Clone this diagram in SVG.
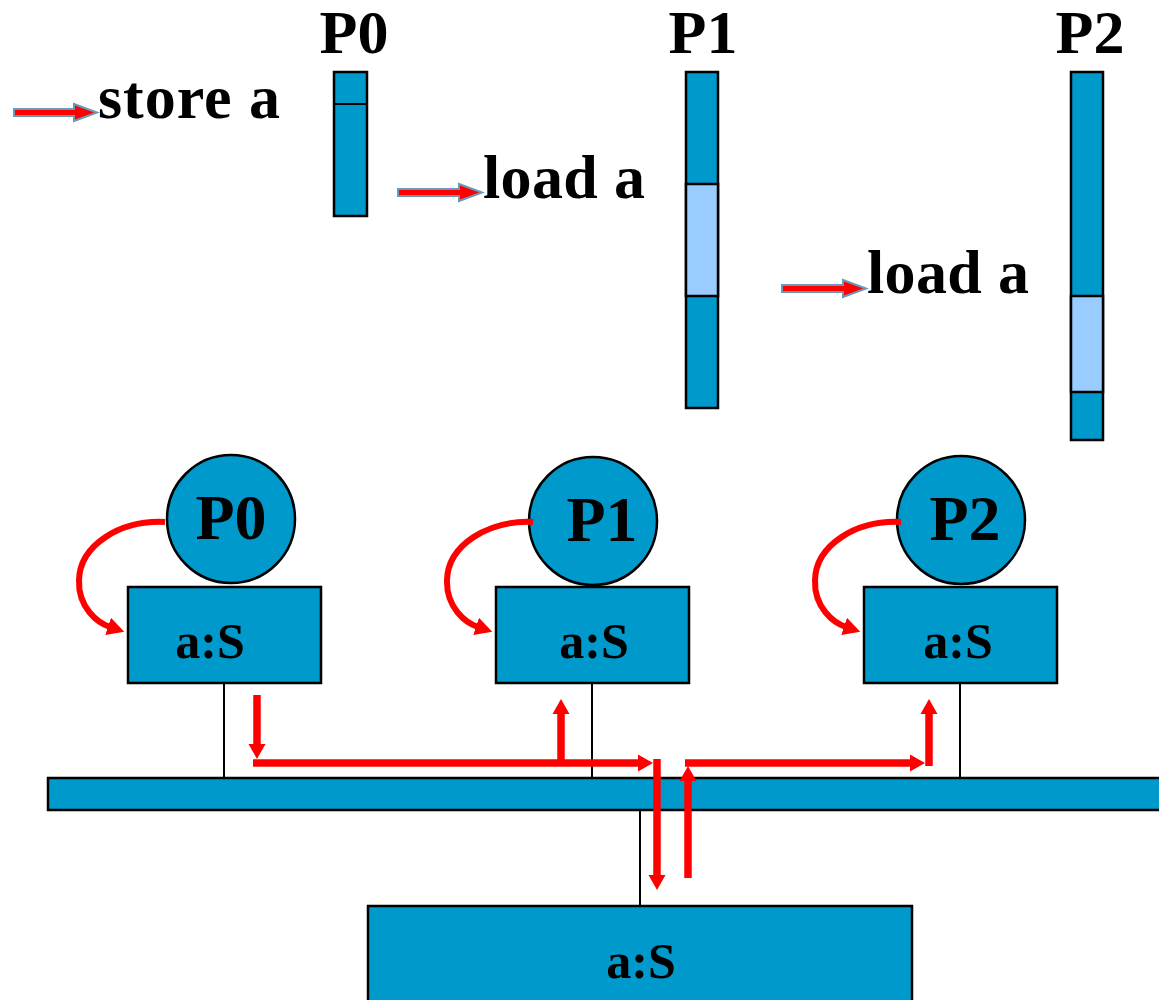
<svg xmlns="http://www.w3.org/2000/svg" width="1159" height="1000" viewBox="0 0 1159 1000">
<style>
.t{font-family:"Liberation Serif","Times New Roman",serif;font-weight:bold;fill:#000}
.big{font-size:62px}
.mid{font-size:64px}
.sm{font-size:50px}
.blue{fill:#0099cc;stroke:#000;stroke-width:2.5}
.light{fill:#99ccff;stroke:#000;stroke-width:2.5}
.wire{stroke:#000;stroke-width:2;fill:none}
.red{stroke:#ff0000;stroke-width:7.5;fill:none}
.curve{stroke:#ff0000;stroke-width:6;fill:none}
.blk{fill:#ff0000;stroke:#6a9ab8;stroke-width:2}
</style>
<defs>
<marker id="ah" markerUnits="userSpaceOnUse" markerWidth="20" markerHeight="20" viewBox="0 -10 20 20" refX="1" refY="0" orient="auto">
<path d="M0,-8.5 L15,0 L0,8.5 z" fill="#ff0000"/>
</marker>
<marker id="ch" markerUnits="userSpaceOnUse" markerWidth="20" markerHeight="20" viewBox="0 -10 20 20" refX="2" refY="0" orient="auto">
<path d="M0,-9 L17,0 L0,9 z" fill="#ff0000"/>
</marker>
</defs>

<g id="timeline-P0">
<text class="t big" x="354" y="53" text-anchor="middle">P0</text>
<rect class="blue" x="334" y="72" width="33" height="144"/>
<line class="wire" x1="334" y1="104" x2="367" y2="104" stroke-width="2.5"/>
</g>
<g id="timeline-P1">
<text class="t big" x="703" y="53" text-anchor="middle">P1</text>
<rect class="blue" x="686" y="72" width="32" height="336"/>
<rect class="light" x="686" y="184" width="32" height="112"/>
</g>
<g id="timeline-P2">
<text class="t big" x="1090" y="53" text-anchor="middle">P2</text>
<rect class="blue" x="1071" y="72" width="32" height="368"/>
<rect class="light" x="1071" y="296" width="32" height="96"/>
</g>

<g id="label-store">
<polygon class="blk" points="14,109 74,109 74,104 97,112.5 74,121 74,116 14,116"/>
<text class="t big" x="98" y="118" textLength="182" lengthAdjust="spacing">store a</text>
</g>
<g id="label-load1">
<polygon class="blk" points="398,189 459,189 459,184 482,192.5 459,201 459,196 398,196"/>
<text class="t big" x="483" y="198" textLength="162" lengthAdjust="spacing">load a</text>
</g>
<g id="label-load2">
<polygon class="blk" points="782,285 843,285 843,280 866,288.5 843,297 843,292 782,292"/>
<text class="t big" x="867" y="293" textLength="162" lengthAdjust="spacing">load a</text>
</g>

<g id="node-P0">
<circle class="blue" cx="231" cy="519" r="64"/>
<text class="t mid" x="231" y="539" text-anchor="middle">P0</text>
<rect class="blue" x="128" y="587" width="193" height="96"/>
<text class="t sm" x="210" y="658" text-anchor="middle">a:S</text>
</g>
<g id="node-P1">
<circle class="blue" cx="593" cy="521" r="64"/>
<text class="t mid" x="602" y="541" text-anchor="middle">P1</text>
<rect class="blue" x="496" y="587" width="193" height="96"/>
<text class="t sm" x="594" y="658" text-anchor="middle">a:S</text>
</g>
<g id="node-P2">
<circle class="blue" cx="961" cy="520" r="64"/>
<text class="t mid" x="965" y="540" text-anchor="middle">P2</text>
<rect class="blue" x="864" y="587" width="193" height="96"/>
<text class="t sm" x="958" y="658" text-anchor="middle">a:S</text>
</g>

<g id="bus">
<rect class="blue" x="48" y="778" width="1120" height="32"/>
</g>
<g id="memory">
<rect class="blue" x="368" y="906" width="544" height="110"/>
<text class="t sm" x="641" y="978" text-anchor="middle">a:S</text>
</g>

<g id="connectors">
<line class="wire" x1="224" y1="683" x2="224" y2="778"/>
<line class="wire" x1="592" y1="683" x2="592" y2="778"/>
<line class="wire" x1="960" y1="683" x2="960" y2="778"/>
<line class="wire" x1="640" y1="810" x2="640" y2="906"/>

<path class="curve" d="M165,522 C120,520 80,545 79,580 C78,608 98,623 110,627" marker-end="url(#ch)"/>
<path class="curve" d="M533,522 C488,520 448,545 447,580 C446,608 466,623 478,627" marker-end="url(#ch)"/>
<path class="curve" d="M901,522 C856,520 816,545 815,580 C814,608 834,623 846,627" marker-end="url(#ch)"/>

<line class="red" x1="257" y1="695" x2="257" y2="745" marker-end="url(#ah)"/>
<line class="red" x1="253" y1="763" x2="639" y2="763" marker-end="url(#ah)"/>
<line class="red" x1="561" y1="766" x2="561" y2="713" marker-end="url(#ah)"/>
<line class="red" x1="657" y1="759" x2="657" y2="876" marker-end="url(#ah)"/>
<line class="red" x1="688" y1="878" x2="688" y2="780" marker-end="url(#ah)"/>
<line class="red" x1="685" y1="763" x2="911" y2="763" marker-end="url(#ah)"/>
<line class="red" x1="929" y1="766" x2="929" y2="713" marker-end="url(#ah)"/>
</g>
</svg>
